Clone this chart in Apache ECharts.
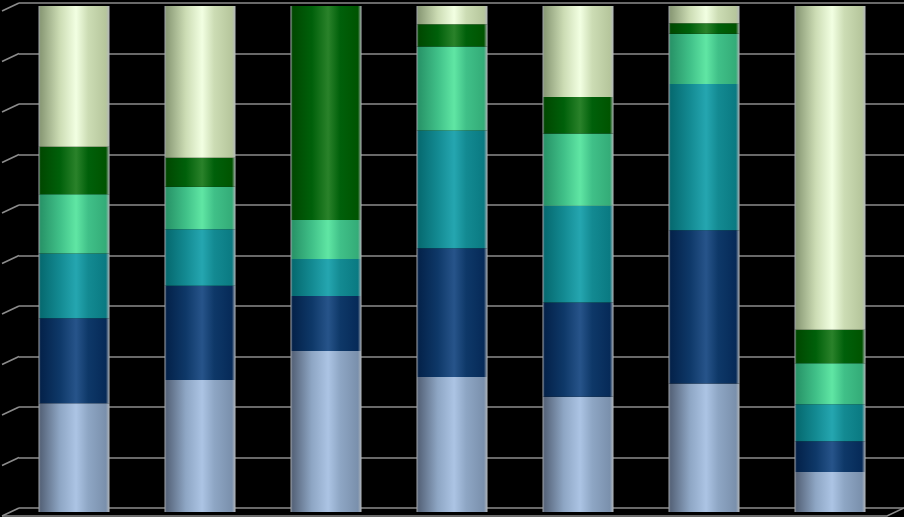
<!DOCTYPE html>
<html>
<head>
<meta charset="utf-8">
<script src="https://cdn.jsdelivr.net/npm/echarts@6/dist/echarts.min.js"></script>
<style>
  html, body { margin: 0; padding: 0; background: #000; }
  #chart { width: 904px; height: 517px; }
</style>
</head>
<body>
<div id="chart"></div>
<script>
// Данные (проценты, 100% накопление)
const categories = ['1', '2', '3', '4', '5', '6', '7'];
const seriesNames = ['S1', 'S2', 'S3', 'S4', 'S5', 'S6'];
const s1 = [21.5, 26.1, 31.8, 26.7, 22.8, 25.4, 7.9];
const s2 = [16.8, 18.6, 10.9, 25.4, 18.6, 30.3, 6.1];
const s3 = [12.8, 11.2, 7.3, 23.3, 19.1, 28.9, 7.3];
const s4 = [11.7, 8.4, 7.7, 16.6, 14.3, 9.9, 8.1];
const s5 = [9.4, 5.7, 42.3, 4.4, 7.2, 2.1, 6.6];
const s6 = [27.8, 30.0, 0, 3.6, 18.0, 3.4, 64.0];
const ticks = [0, 10, 20, 30, 40, 50, 60, 70, 80, 90, 100];

// Цвета цилиндров: тень слева, середина, блик, тень справа
const palette = [
  ['#56647a', '#8ea6c4', '#acc4e4', '#7a90ac'],
  ['#04224a', '#0e3868', '#27548a', '#062a58'],
  ['#066a70', '#138a92', '#25a6b0', '#0a7a82'],
  ['#289468', '#40c088', '#60e6a4', '#34ac78'],
  ['#004800', '#00600a', '#2a822a', '#005400'],
  ['#8a9a76', '#ccdcb4', '#f2ffe2', '#b6c69c']
];

function cylinder(c) {
  return new echarts.graphic.LinearGradient(0, 0, 1, 0, [
    { offset: 0, color: '#a0a4aa' },
    { offset: 0.03, color: c[0] },
    { offset: 0.3, color: c[1] },
    { offset: 0.53, color: c[2] },
    { offset: 0.7, color: c[1] },
    { offset: 0.95, color: c[3] },
    { offset: 1, color: '#b4b8bc' }
  ]);
}

const values = [s1, s2, s3, s4, s5, s6];

const barSeries = values.map(function (data, i) {
  return {
    name: seriesNames[i],
    type: 'bar',
    stack: 'total',
    xAxisIndex: 1,
    yAxisIndex: 1,
    barWidth: 71,
    data: data,
    itemStyle: { color: cylinder(palette[i]) }
  };
});

// Косые засечки и передний край «пола»
const decor = {
  type: 'custom',
  xAxisIndex: 0,
  yAxisIndex: 0,
  silent: true,
  data: ticks,
  renderItem: function (params, api) {
    const v = api.value(0);
    const p = api.coord([0, v]);
    const children = [{
      type: 'line',
      shape: { x1: p[0] - 17, y1: p[1] + 8, x2: p[0], y2: p[1] },
      style: { stroke: '#8c8c8c', lineWidth: 1.5 }
    }];
    if (v === 0) {
      const r = api.coord([1, 0]);
      children.push({
        type: 'polyline',
        shape: { points: [[p[0] - 17, p[1] + 8], [r[0] - 17, r[1] + 8], [r[0], r[1]]] },
        style: { stroke: '#8c8c8c', lineWidth: 1.5, fill: null }
      });
    }
    return { type: 'group', children: children };
  }
};

const chart = echarts.init(document.getElementById('chart'));
chart.setOption({
  backgroundColor: '#000',
  animation: false,
  grid: [
    { left: 19, right: 0, top: 3, bottom: 9 },
    { left: 11, right: 11, top: 6, bottom: 5 }
  ],
  xAxis: [
    { type: 'value', gridIndex: 0, min: 0, max: 1, show: false },
    {
      type: 'category', gridIndex: 1, data: categories,
      axisLine: { show: false }, axisTick: { show: false }, axisLabel: { show: false }
    }
  ],
  yAxis: [
    {
      type: 'value', gridIndex: 0, min: 0, max: 100, interval: 10,
      axisLine: { show: false }, axisTick: { show: false }, axisLabel: { show: false },
      splitLine: { lineStyle: { color: '#8c8c8c', width: 1.5 } }
    },
    {
      type: 'value', gridIndex: 1, min: 0, max: 100,
      axisLine: { show: false }, axisTick: { show: false }, axisLabel: { show: false },
      splitLine: { show: false }
    }
  ],
  series: [decor].concat(barSeries)
});
</script>
</body>
</html>
